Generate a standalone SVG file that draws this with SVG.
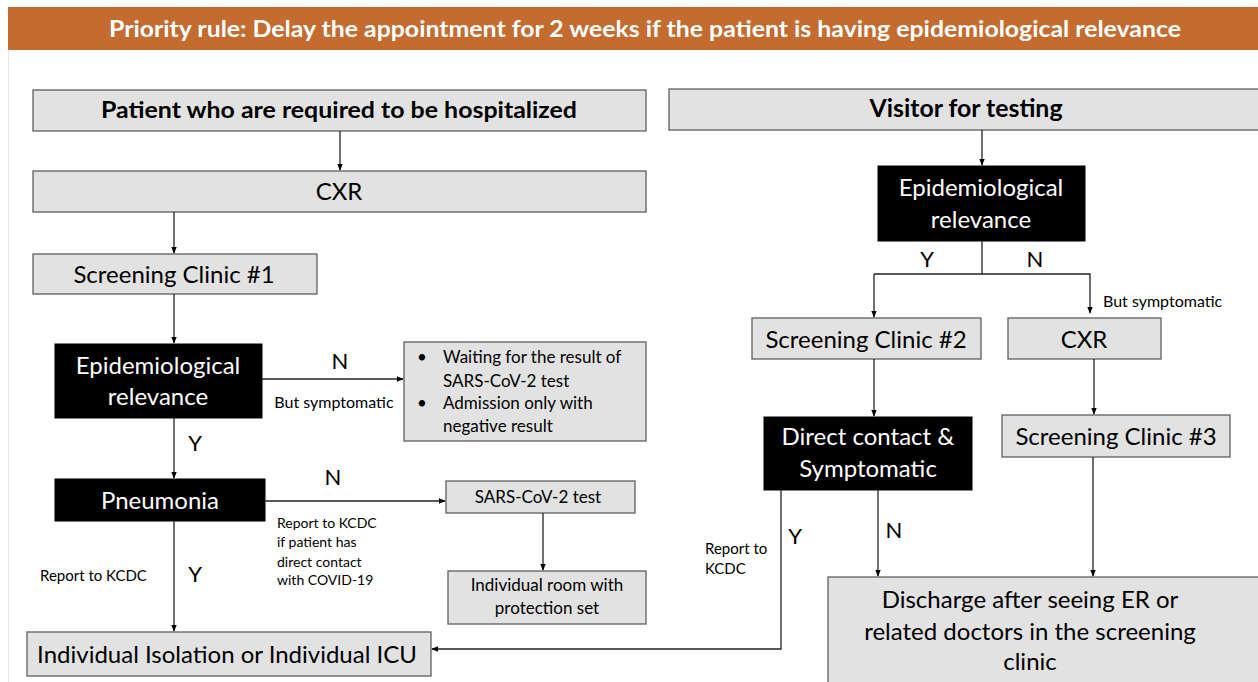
<svg xmlns="http://www.w3.org/2000/svg" width="1258" height="682" viewBox="0 0 1258 682">
<defs>
<marker id="ah" viewBox="0 0 10 10" refX="9" refY="5" markerWidth="7" markerHeight="7" orient="auto" markerUnits="userSpaceOnUse"><path d="M0,1 L10,5 L0,9 z" fill="#000"/></marker>
<style>
text{font-family:Lato,"Open Sans","Liberation Sans",sans-serif;fill:#000}
.g{fill:#e2e2e2;stroke:#5f5f5f;stroke-width:1.3}
.b{fill:#000;stroke:#000}
.w{fill:#fff}
.c{text-anchor:middle}
.t24{font-size:24px}
.t22{font-size:22px}
.t17{font-size:17px}
.t16{font-size:16px}
.t15{font-size:15px}
.t14{font-size:14px}
.bold{font-weight:bold}
.ln{fill:none;stroke:#222;stroke-width:1.3}
.ar{fill:none;stroke:#222;stroke-width:1.3;marker-end:url(#ah)}
</style>
</defs>
<rect width="1258" height="682" fill="#fff"/>
<line x1="8.5" y1="50" x2="8.5" y2="682" stroke="#e4e4e4" stroke-width="1"/>
<g id="header">
<rect x="8" y="7" width="1250" height="43" fill="#c46b30"/>
<text x="645" y="37" class="c bold w" font-size="22" textLength="1072" lengthAdjust="spacingAndGlyphs">Priority rule: Delay the appointment for 2 weeks if the patient is having epidemiological relevance</text>
</g>
<g id="hosp"><rect class="g" x="33" y="90" width="613" height="41"/><text x="339" y="118" class="c t22 bold" textLength="476" lengthAdjust="spacingAndGlyphs">Patient who are required to be hospitalized</text></g>
<g id="cxr1"><rect class="g" x="33" y="171" width="613" height="41"/><text x="339" y="200" class="c t24">CXR</text></g>
<g id="sc1"><rect class="g" x="33" y="254" width="284" height="40"/><text x="174" y="283" class="c t24">Screening Clinic #1</text></g>
<g id="epi1"><rect class="b" x="55" y="344" width="207" height="74"/><text x="158" y="374" class="c t24 w">Epidemiological</text><text x="158" y="405" class="c t24 w">relevance</text></g>
<g id="wait"><rect class="g" x="404" y="342" width="242" height="99"/>
<text x="417" y="363" class="t17">•</text><text x="443" y="363" class="t17">Waiting for the result of</text>
<text x="443" y="387" class="t17">SARS-CoV-2 test</text>
<text x="417" y="409" class="t17">•</text><text x="443" y="409" class="t17">Admission only with</text>
<text x="443" y="432" class="t17">negative result</text></g>
<g id="pneu"><rect class="b" x="55" y="479" width="210" height="42"/><text x="160" y="509" class="c t24 w">Pneumonia</text></g>
<g id="sars"><rect class="g" x="446" y="481" width="189" height="32"/><text x="538" y="503" class="c t17">SARS-CoV-2 test</text></g>
<g id="room"><rect class="g" x="448" y="571" width="198" height="53"/><text x="547" y="591" class="c t17">Individual room with</text><text x="547" y="614" class="c t17">protection set</text></g>
<g id="iso"><rect class="g" x="27" y="632" width="404" height="44"/><text x="227" y="663" class="c t24">Individual Isolation or Individual ICU</text></g>
<g id="visitor"><rect class="g" x="669" y="89" width="595" height="41"/><text x="966" y="117" class="c bold t24" textLength="193" lengthAdjust="spacingAndGlyphs">Visitor for testing</text></g>
<g id="epi2"><rect class="b" x="878" y="166" width="207" height="75"/><text x="981" y="196" class="c t24 w">Epidemiological</text><text x="981" y="228" class="c t24 w">relevance</text></g>
<g id="sc2"><rect class="g" x="752" y="318" width="229" height="41"/><text x="866" y="348" class="c t24">Screening Clinic #2</text></g>
<g id="cxr2"><rect class="g" x="1008" y="318" width="153" height="41"/><text x="1084" y="348" class="c t24">CXR</text></g>
<g id="direct"><rect class="b" x="764" y="417" width="208" height="73"/><text x="868" y="445" class="c t24 w">Direct contact &amp;</text><text x="868" y="477" class="c t24 w">Symptomatic</text></g>
<g id="sc3"><rect class="g" x="1002" y="415" width="228" height="42"/><text x="1116" y="445" class="c t24">Screening Clinic #3</text></g>
<g id="discharge"><rect class="g" x="828" y="577" width="436" height="110"/><text x="1030" y="608" class="c t24">Discharge after seeing ER or</text><text x="1030" y="640" class="c t24">related doctors in the screening</text><text x="1030" y="670" class="c t24">clinic</text></g>
<g id="connectors">
<line class="ar" x1="340" y1="131" x2="340" y2="170"/>
<line class="ar" x1="174" y1="212" x2="174" y2="253"/>
<line class="ar" x1="174" y1="294" x2="174" y2="343"/>
<line class="ar" x1="262" y1="379" x2="403" y2="379"/>
<line class="ar" x1="174" y1="418" x2="174" y2="478"/>
<line class="ar" x1="265" y1="501" x2="445" y2="501"/>
<line class="ar" x1="543" y1="513" x2="543" y2="570"/>
<line class="ar" x1="174" y1="521" x2="174" y2="631"/>
<polyline class="ar" points="781,490 781,649 432,649"/>
<line class="ar" x1="982" y1="130" x2="982" y2="165"/>
<polyline class="ln" points="982,241 982,274"/>
<polyline class="ar" points="874,274 874,317"/>
<polyline class="ar" points="874,274 1090,274 1090,313"/>
<line class="ar" x1="874" y1="359" x2="874" y2="416"/>
<line class="ar" x1="1094" y1="359" x2="1094" y2="414"/>
<line class="ar" x1="878" y1="490" x2="878" y2="576"/>
<line class="ar" x1="1093" y1="457" x2="1093" y2="576"/>
</g>
<g id="labels">
<text x="340" y="369" class="c t22">N</text>
<text x="334" y="408" class="c t16">But symptomatic</text>
<text x="195" y="451" class="c t22">Y</text>
<text x="333" y="485" class="c t22">N</text>
<text x="277" y="528" class="t14">Report to KCDC</text>
<text x="277" y="547" class="t14">if patient has</text>
<text x="277" y="567" class="t14">direct contact</text>
<text x="277" y="585" class="t14">with COVID-19</text>
<text x="40" y="581" class="t15">Report to KCDC</text>
<text x="195" y="582" class="c t22">Y</text>
<text x="927" y="267" class="c t22">Y</text>
<text x="1035" y="267" class="c t22">N</text>
<text x="1103" y="307" class="t16">But symptomatic</text>
<text x="894" y="538" class="c t22">N</text>
<text x="795" y="544" class="c t22">Y</text>
<text x="705" y="554" class="t15">Report to</text>
<text x="705" y="574" class="t15">KCDC</text>
</g>
</svg>
